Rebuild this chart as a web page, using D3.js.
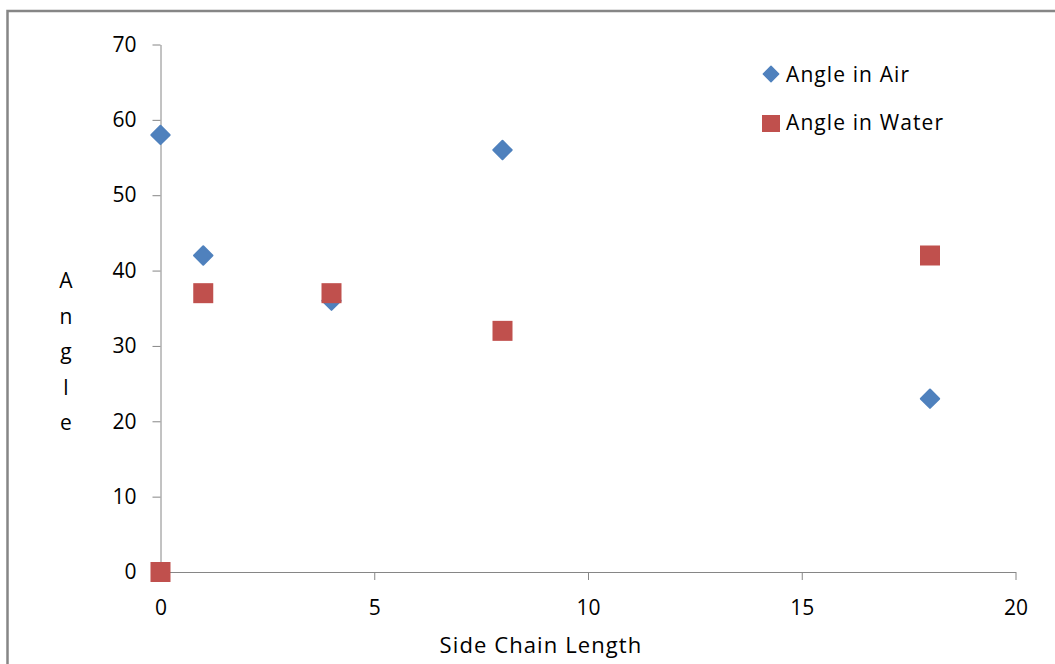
<!DOCTYPE html>
<html>
<head>
<meta charset="utf-8">
<script src="https://cdn.jsdelivr.net/npm/d3@7"></script>
<style>
  html, body { margin: 0; padding: 0; background: #fff; }
  svg { display: block; }
  text { font-family: "Open Sans", Lato, sans-serif; fill: #000; }
</style>
</head>
<body>
<svg id="chart" width="1055" height="664"></svg>
<script>
// Side chain length vs. contact angle
const sideChain = [0, 1, 4, 8, 18];
const angleAir = [58, 42, 36, 56, 23];
const angleWater = [0, 37, 37, 32, 42];
const xTicks = [0, 5, 10, 15, 20];
const yTicks = [0, 10, 20, 30, 40, 50, 60, 70];
const seriesNames = ["Angle in Air", "Angle in Water"];
const yTitle = "Angle";
const xTitle = "Side Chain Length";

const W = 1055, H = 664;
const margin = { left: 160.5, right: 39.5, top: 44.5, bottom: 92 };
const svg = d3.select("#chart");
const font = "'Open Sans', Lato, sans-serif";

// outer frame (right and bottom edges run past the canvas)
svg.append("rect")
  .attr("x", 7.5).attr("y", 11).attr("width", 1100).attr("height", 700)
  .attr("fill", "none").attr("stroke", "#868686").attr("stroke-width", 2.5);

const x = d3.scaleLinear().domain([0, 20]).range([margin.left, W - margin.right]);
const y = d3.scaleLinear().domain([0, 70]).range([H - margin.bottom, margin.top]);

const axisColor = "#868686";

// y axis
const yAxis = svg.append("g")
  .attr("transform", `translate(${margin.left},0)`)
  .call(d3.axisLeft(y).tickValues(yTicks).tickSize(8).tickPadding(16).tickSizeOuter(0));
yAxis.select(".domain").attr("stroke", axisColor);
yAxis.selectAll(".tick line").attr("stroke", axisColor);
yAxis.selectAll(".tick text").attr("font-size", 21).attr("font-family", font).attr("fill", "#000");

// x axis
const xAxis = svg.append("g")
  .attr("transform", `translate(0,${y(0)})`)
  .call(d3.axisBottom(x).tickValues(xTicks).tickSize(8).tickPadding(20).tickSizeOuter(0));
xAxis.select(".domain").attr("stroke", axisColor);
xAxis.selectAll(".tick line").attr("stroke", axisColor);
xAxis.selectAll(".tick text").attr("font-size", 21).attr("font-family", font).attr("fill", "#000");

// axis titles
svg.append("text")
  .attr("x", 541).attr("y", 653)
  .attr("text-anchor", "middle").attr("font-size", 22)
  .attr("letter-spacing", 1.1)
  .text(xTitle);

const yTitleG = svg.append("g");
yTitle.split("").forEach((ch, i) => {
  yTitleG.append("text")
    .attr("x", 66).attr("y", 288 + i * 35.5)
    .attr("text-anchor", "middle").attr("font-size", 21)
    .text(ch);
});

const blue = "#4F81BD", red = "#C0504D";
const diamond = d3.symbol().type(d3.symbolDiamond2).size(215);

const airData = sideChain.map((s, i) => ({ x: s, y: angleAir[i] }));
const waterData = sideChain.map((s, i) => ({ x: s, y: angleWater[i] }));

// angle in air: diamonds
svg.append("g").selectAll("path")
  .data(airData).join("path")
  .attr("d", diamond)
  .attr("transform", d => `translate(${x(d.x)},${y(d.y)})`)
  .attr("fill", blue)
  .attr("stroke", blue).attr("stroke-width", 2).attr("stroke-linejoin", "round");

// angle in water: squares
const sq = 20;
svg.append("g").selectAll("rect")
  .data(waterData).join("rect")
  .attr("x", d => x(d.x) - sq / 2)
  .attr("y", d => y(d.y) - sq / 2)
  .attr("width", sq).attr("height", sq)
  .attr("fill", red);

// legend
const legend = svg.append("g");
legend.append("path")
  .attr("d", d3.symbol().type(d3.symbolDiamond2).size(150))
  .attr("transform", "translate(771,74)")
  .attr("fill", blue).attr("stroke", blue).attr("stroke-width", 1.5).attr("stroke-linejoin", "round");
legend.append("rect")
  .attr("x", 762).attr("y", 115).attr("width", 18).attr("height", 17)
  .attr("fill", red);
legend.selectAll("text")
  .data(seriesNames).join("text")
  .attr("x", 786)
  .attr("y", (d, i) => 82 + i * 48)
  .attr("font-size", 21)
  .attr("letter-spacing", 1.1)
  .text(d => d);
</script>
</body>
</html>
